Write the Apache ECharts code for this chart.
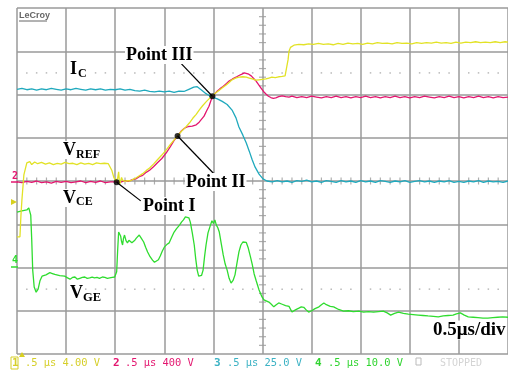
<!DOCTYPE html>
<html>
<head>
<meta charset="utf-8">
<script src="https://cdn.jsdelivr.net/npm/echarts@6/dist/echarts.min.js"></script>
<style>
  html, body { margin: 0; padding: 0; background: #fff; }
  #chart { width: 508px; height: 373px; }
</style>
</head>
<body>
<div id="chart"></div>
<script>
// scope screen: x in divisions (0.5 us/div), y in divisions (8 div tall)
const ch1Vref = [[0,2.71],[0.06,2.71],[0.08,3.2],[0.1,3.56],[0.14,4.14],[0.2,4.42],[0.26,4.45],[0.3,4.38],[0.36,4.44],[0.42,4.4],[0.5,4.43],[0.58,4.39],[0.66,4.42],[0.74,4.38],[0.82,4.41],[0.9,4.39],[0.98,4.43],[1.06,4.4],[1.14,4.41],[1.22,4.38],[1.3,4.42],[1.38,4.39],[1.46,4.41],[1.54,4.38],[1.62,4.42],[1.7,4.4],[1.78,4.41],[1.86,4.4],[1.9,4.36],[1.93,4.25],[1.97,4.09],[2.01,4.0],[2.05,4.06],[2.07,4.21],[2.09,3.92],[2.11,3.88],[2.13,4.08],[2.15,4.02],[2.2,3.99],[2.25,4.01],[2.3,4.0],[2.35,4.03],[2.42,4.07],[2.49,4.12],[2.56,4.17],[2.63,4.24],[2.7,4.3],[2.78,4.39],[2.86,4.49],[2.95,4.6],[3.04,4.72],[3.12,4.84],[3.2,4.95],[3.27,5.04],[3.35,5.15],[3.43,5.24],[3.51,5.34],[3.58,5.45],[3.65,5.54],[3.71,5.64],[3.78,5.74],[3.85,5.83],[3.92,5.91],[3.98,5.97],[4.05,6.04],[4.12,6.1],[4.19,6.16],[4.26,6.22],[4.32,6.28],[4.38,6.34],[4.45,6.38],[4.52,6.4],[4.6,6.41],[4.67,6.4],[4.73,6.38],[4.79,6.36],[4.86,6.33],[4.93,6.34],[5.0,6.35],[5.07,6.36],[5.13,6.38],[5.19,6.4],[5.26,6.39],[5.33,6.41],[5.4,6.42],[5.46,6.43],[5.5,6.46],[5.52,6.8],[5.54,7.0],[5.57,7.09],[5.64,7.14],[5.74,7.16],[5.84,7.15],[5.94,7.17],[6.04,7.16],[6.14,7.18],[6.24,7.16],[6.34,7.17],[6.44,7.15],[6.54,7.18],[6.64,7.16],[6.74,7.19],[6.84,7.17],[6.94,7.18],[7.04,7.16],[7.14,7.19],[7.24,7.17],[7.34,7.2],[7.44,7.18],[7.54,7.19],[7.64,7.17],[7.74,7.2],[7.84,7.18],[7.94,7.19],[8.04,7.17],[8.14,7.2],[8.24,7.18],[8.34,7.2],[8.44,7.19],[8.54,7.21],[8.64,7.19],[8.74,7.2],[8.84,7.18],[8.94,7.21],[9.04,7.19],[9.14,7.21],[9.24,7.2],[9.34,7.22],[9.44,7.2],[9.54,7.21],[9.64,7.2],[9.74,7.22],[9.84,7.2],[9.94,7.22],[10,7.21]]

const ch2Vce = [[0,3.98],[0.1,3.96],[0.2,3.99],[0.3,3.97],[0.4,4.0],[0.5,3.96],[0.6,3.98],[0.7,3.95],[0.8,3.99],[0.9,3.97],[1,3.99],[1.1,3.96],[1.2,3.98],[1.3,4.0],[1.4,3.96],[1.5,3.99],[1.6,3.97],[1.7,4.0],[1.8,3.96],[1.9,3.98],[2.03,3.98],[2.1,3.97],[2.19,4.01],[2.27,3.99],[2.35,4.03],[2.42,4.05],[2.49,4.1],[2.56,4.13],[2.63,4.2],[2.7,4.25],[2.78,4.33],[2.86,4.42],[2.95,4.52],[3.04,4.65],[3.12,4.79],[3.2,4.94],[3.27,5.04],[3.34,5.15],[3.41,5.22],[3.49,5.26],[3.57,5.27],[3.65,5.3],[3.71,5.36],[3.76,5.43],[3.81,5.5],[3.86,5.62],[3.91,5.73],[3.95,5.86],[3.98,5.94],[4.03,6.02],[4.08,6.08],[4.13,6.13],[4.18,6.17],[4.25,6.24],[4.32,6.31],[4.39,6.36],[4.46,6.4],[4.52,6.44],[4.58,6.47],[4.63,6.5],[4.67,6.49],[4.72,6.47],[4.77,6.43],[4.82,6.37],[4.87,6.31],[4.92,6.23],[4.97,6.15],[5.02,6.07],[5.07,6.01],[5.12,5.96],[5.17,5.93],[5.22,5.91],[5.27,5.92],[5.33,5.95],[5.4,5.97],[5.47,5.95],[5.54,5.94],[5.6,5.96],[5.7,5.93],[5.8,5.95],[5.9,5.93],[6,5.96],[6.1,5.94],[6.2,5.92],[6.3,5.95],[6.4,5.93],[6.5,5.96],[6.6,5.93],[6.7,5.95],[6.8,5.92],[6.9,5.95],[7,5.93],[7.1,5.96],[7.2,5.93],[7.3,5.95],[7.4,5.92],[7.5,5.95],[7.6,5.93],[7.7,5.96],[7.8,5.93],[7.9,5.95],[8,5.92],[8.1,5.95],[8.2,5.93],[8.3,5.96],[8.4,5.94],[8.5,5.92],[8.6,5.95],[8.7,5.93],[8.8,5.96],[8.9,5.93],[9,5.95],[9.1,5.92],[9.2,5.95],[9.3,5.93],[9.4,5.96],[9.5,5.93],[9.6,5.95],[9.7,5.92],[9.8,5.95],[9.9,5.93],[10,5.94]]

const ch3Ic = [[0,6.12],[0.1,6.14],[0.2,6.11],[0.3,6.13],[0.4,6.1],[0.5,6.13],[0.6,6.11],[0.7,6.14],[0.8,6.12],[0.9,6.1],[1,6.13],[1.1,6.11],[1.2,6.14],[1.3,6.12],[1.4,6.1],[1.5,6.13],[1.6,6.11],[1.7,6.13],[1.8,6.1],[1.9,6.12],[2,6.11],[2.1,6.13],[2.2,6.1],[2.3,6.12],[2.4,6.09],[2.5,6.08],[2.6,6.1],[2.7,6.07],[2.8,6.06],[2.9,6.08],[3,6.06],[3.1,6.08],[3.2,6.05],[3.3,6.08],[3.4,6.07],[3.5,6.12],[3.6,6.17],[3.67,6.18],[3.75,6.11],[3.85,6.02],[3.92,5.97],[3.98,5.94],[4.08,5.9],[4.18,5.84],[4.28,5.77],[4.38,5.64],[4.46,5.46],[4.52,5.25],[4.6,5.06],[4.67,4.88],[4.73,4.69],[4.79,4.49],[4.85,4.32],[4.93,4.16],[5.01,4.05],[5.09,4.0],[5.2,3.98],[5.3,4.01],[5.4,3.98],[5.5,4.0],[5.6,3.97],[5.7,4.01],[5.8,3.99],[5.9,4.02],[6,3.98],[6.1,4.0],[6.2,3.97],[6.3,4.01],[6.4,3.99],[6.5,3.97],[6.6,4.01],[6.7,3.98],[6.8,4.0],[6.9,3.97],[7,4.01],[7.1,3.98],[7.2,4.0],[7.3,3.97],[7.4,4.01],[7.5,3.99],[7.6,3.97],[7.7,4.0],[7.8,3.98],[7.9,4.01],[8,3.97],[8.1,3.99],[8.2,4.01],[8.3,3.98],[8.4,4.0],[8.5,3.97],[8.6,4.0],[8.7,3.98],[8.8,4.01],[8.9,3.97],[9,3.99],[9.1,3.97],[9.2,4.0],[9.3,3.98],[9.4,4.01],[9.5,3.97],[9.6,4.0],[9.7,3.98],[9.8,3.99],[9.9,3.97],[10,4.0]]

const ch4Vge = [[0,3.28],[0.1,3.31],[0.2,3.33],[0.24,3.38],[0.28,3.21],[0.3,2.64],[0.32,1.94],[0.35,1.55],[0.39,1.43],[0.43,1.5],[0.47,1.7],[0.51,1.8],[0.59,1.83],[0.67,1.88],[0.72,1.86],[0.77,1.84],[0.87,1.81],[0.97,1.8],[1.03,1.76],[1.08,1.73],[1.13,1.77],[1.18,1.78],[1.23,1.73],[1.28,1.75],[1.33,1.77],[1.38,1.78],[1.43,1.75],[1.48,1.76],[1.53,1.78],[1.58,1.76],[1.63,1.77],[1.68,1.75],[1.74,1.78],[1.79,1.77],[1.84,1.75],[1.89,1.76],[1.94,1.77],[1.99,1.78],[2.03,1.9],[2.05,2.4],[2.07,2.82],[2.09,2.78],[2.11,2.73],[2.13,2.6],[2.15,2.52],[2.17,2.68],[2.19,2.75],[2.22,2.62],[2.25,2.57],[2.28,2.63],[2.31,2.61],[2.34,2.57],[2.37,2.59],[2.4,2.63],[2.43,2.68],[2.46,2.72],[2.49,2.75],[2.53,2.68],[2.58,2.59],[2.62,2.47],[2.66,2.36],[2.71,2.25],[2.76,2.17],[2.8,2.12],[2.84,2.1],[2.88,2.18],[2.92,2.27],[2.96,2.38],[3,2.47],[3.05,2.53],[3.1,2.57],[3.15,2.7],[3.2,2.82],[3.25,2.9],[3.31,2.98],[3.35,3.05],[3.39,3.1],[3.43,3.17],[3.47,3.21],[3.5,3.15],[3.53,3.05],[3.57,2.8],[3.61,2.52],[3.64,2.2],[3.67,1.94],[3.7,1.8],[3.73,1.76],[3.76,1.82],[3.79,1.94],[3.82,2.25],[3.85,2.52],[3.89,2.8],[3.94,2.98],[3.97,3.08],[4,3.02],[4.03,3.1],[4.06,2.98],[4.09,2.92],[4.12,2.82],[4.16,2.55],[4.2,2.29],[4.24,2.08],[4.28,1.94],[4.32,1.75],[4.36,1.64],[4.4,1.7],[4.44,1.83],[4.48,2.1],[4.52,2.36],[4.56,2.52],[4.6,2.59],[4.64,2.6],[4.67,2.58],[4.71,2.45],[4.75,2.27],[4.79,2.08],[4.83,1.85],[4.87,1.7],[4.93,1.48],[4.99,1.32],[5.03,1.25],[5.13,1.2],[5.18,1.15],[5.23,1.09],[5.28,1.14],[5.33,1.18],[5.4,1.15],[5.47,1.12],[5.54,1.1],[5.6,0.97],[5.67,1.02],[5.74,1.06],[5.79,1.09],[5.84,1.08],[5.89,1.02],[5.94,0.97],[6.0,1.0],[6.07,1.05],[6.15,1.09],[6.2,1.14],[6.25,1.18],[6.3,1.14],[6.38,1.1],[6.45,1.09],[6.55,1.03],[6.65,0.99],[6.75,1.0],[6.85,0.98],[6.96,0.99],[7.06,0.97],[7.16,0.98],[7.26,0.97],[7.36,0.98],[7.46,0.99],[7.54,0.95],[7.61,0.9],[7.69,0.94],[7.77,0.97],[7.87,0.94],[7.97,0.92],[8.07,0.91],[8.17,0.9],[8.27,0.89],[8.37,0.88],[8.48,0.87],[8.58,0.86],[8.68,0.88],[8.78,0.89],[8.88,0.9],[8.95,0.93],[9.03,0.95],[9.11,0.9],[9.19,0.86],[9.29,0.85],[9.39,0.84],[9.49,0.83],[9.59,0.83],[9.69,0.84],[9.79,0.85],[9.89,0.86],[10,0.85]]

// marked points on the switching waveform and where their leader lines end
const keyPoints = [[2.03, 3.97], [3.27, 5.04], [3.98, 5.96]]
const leaderEnds = [[2.52, 3.54], [4.0, 4.18], [3.35, 6.71]]

// bottom status bar of the scope
const chNames = ['1', '2', '3', '4']
const chSettings = ['.5 μs 4.00 V', '.5 μs 400 V', '.5 μs 25.0 V', '.5 μs 10.0 V']

const COLORS = ['#e2e226', '#e3166f', '#1fa9bd', '#2fdc2f']
const GRID_GRAY = '#9a9a9a'

// minor tick marks on the centre cross and the two dotted reference rows
const hTicks = []
const vTicks = []
const dotRows = []
for (let d = 0; d < 10; d++) {
  for (let k = 1; k <= 4; k++) {
    hTicks.push([d + k * 0.2, 4])
    dotRows.push([d + k * 0.2, 6.5], [d + k * 0.2, 1.5])
  }
}
for (let d = 0; d < 8; d++) {
  for (let k = 1; k <= 4; k++) vTicks.push([5, d + k * 0.2])
}

const chart = echarts.init(document.getElementById('chart'))

const trace = (data, color) => ({
  type: 'line',
  data,
  showSymbol: false,
  silent: true,
  z: 3,
  lineStyle: { color, width: 1.3 },
})

const serif = 'bold 18px "Liberation Serif", "Times New Roman", serif'
const subSerif = 'bold 12px "Liberation Serif", "Times New Roman", serif'
const label = (text, x, y, font) => ({
  type: 'text',
  z: 20,
  style: { text, x, y, font: font || serif, fill: '#000', verticalAlign: 'middle', backgroundColor: '#fff', padding: [0, 1] },
})
const mono = (text, x, color, bold) => ({
  type: 'text',
  z: 20,
  style: { text, x, y: 363, font: (bold ? 'bold 11px' : '10.4px') + ' "DejaVu Sans Mono", monospace', fill: color, verticalAlign: 'middle' },
})

const statusX = [[12, 25], [113, 125], [214, 227], [315, 328]]
const statusColors = ['#d6cf2a', '#e3166f', '#3cb2c4', '#2fd42f']
const statusItems = []
chNames.forEach((n, i) => {
  statusItems.push(mono(n, statusX[i][0], statusColors[i], true))
  statusItems.push(mono(chSettings[i], statusX[i][1], statusColors[i], false))
})

const option = {
  animation: false,
  backgroundColor: '#fff',
  grid: { left: 17, top: 8, width: 493, height: 346 },
  xAxis: {
    type: 'value', min: 0, max: 10, interval: 1,
    axisLine: { show: false }, axisTick: { show: false }, axisLabel: { show: false },
    splitLine: { show: true, lineStyle: { color: GRID_GRAY, width: 1.5 } },
  },
  yAxis: {
    type: 'value', min: 0, max: 8, interval: 1,
    axisLine: { show: false }, axisTick: { show: false }, axisLabel: { show: false },
    splitLine: { show: true, lineStyle: { color: GRID_GRAY, width: 1.5 } },
  },
  series: [
    { type: 'scatter', data: hTicks, symbol: 'rect', symbolSize: [1.2, 7], itemStyle: { color: GRID_GRAY }, silent: true, z: 1 },
    { type: 'scatter', data: vTicks, symbol: 'rect', symbolSize: [7, 1.2], itemStyle: { color: GRID_GRAY }, silent: true, z: 1 },
    { type: 'scatter', data: dotRows, symbol: 'rect', symbolSize: 1.5, itemStyle: { color: '#a8a8a8' }, silent: true, z: 1 },
    trace(ch3Ic, COLORS[2]),
    trace(ch4Vge, COLORS[3]),
    trace(ch2Vce, COLORS[1]),
    trace(ch1Vref, COLORS[0]),
    ...keyPoints.map((p, i) => ({
      type: 'line', data: [p, leaderEnds[i]], showSymbol: false, silent: true, z: 5,
      lineStyle: { color: '#000', width: 1.2 },
    })),
    { type: 'scatter', data: keyPoints, symbolSize: 6, itemStyle: { color: '#000' }, silent: true, z: 6 },
  ],
  graphic: [
    // scope brand and channel markers
    { type: 'text', z: 20, style: { text: 'LeCroy', x: 19, y: 16, font: 'bold 9px "Liberation Sans", Arial, sans-serif', fill: '#666', verticalAlign: 'middle' } },
    { type: 'line', z: 20, shape: { x1: 19, y1: 21, x2: 47, y2: 21 }, style: { stroke: '#666', lineWidth: 1 } },
    { type: 'text', z: 20, style: { text: '2', x: 12, y: 176, font: 'bold 10px "DejaVu Sans Mono", monospace', fill: COLORS[1], verticalAlign: 'middle' } },
    { type: 'line', z: 20, shape: { x1: 11, y1: 182, x2: 18, y2: 182 }, style: { stroke: COLORS[1], lineWidth: 1.5 } },
    { type: 'polygon', z: 20, shape: { points: [[11, 199], [17, 202], [11, 205]] }, style: { fill: '#d8d020' } },
    { type: 'text', z: 20, style: { text: '4', x: 12, y: 260, font: 'bold 10px "DejaVu Sans Mono", monospace', fill: COLORS[3], verticalAlign: 'middle' } },
    { type: 'line', z: 20, shape: { x1: 11, y1: 267, x2: 18, y2: 267 }, style: { stroke: COLORS[3], lineWidth: 1.5 } },
    { type: 'polygon', z: 20, shape: { points: [[19, 357], [22, 352], [25, 357]] }, style: { fill: '#d8d020' } },

    // waveform annotations
    label('I', 69, 69),
    label('C', 77, 74, subSerif),
    label('Point III', 125, 55),
    label('V', 62, 150),
    label('REF', 75, 155, subSerif),
    label('V', 62, 198),
    label('CE', 75, 202, subSerif),
    label('Point I', 142, 206),
    label('Point II', 185, 182),
    label('V', 69, 293),
    label('GE', 82, 298, 'bold 12.5px "Liberation Serif", "Times New Roman", serif'),
    label('0.5μs/div', 432, 330, 'bold 19px "Liberation Serif", "Times New Roman", serif'),

    // status bar
    { type: 'rect', z: 19, shape: { x: 11, y: 357, width: 7, height: 12 }, style: { fill: '#fff', stroke: '#d6cf2a', lineWidth: 1 } },
    ...statusItems,
    { type: 'rect', z: 20, shape: { x: 416, y: 358, width: 5, height: 7 }, style: { fill: 'none', stroke: '#bbb', lineWidth: 1 } },
    { type: 'text', z: 20, style: { text: 'STOPPED', x: 440, y: 363, font: '10px "DejaVu Sans Mono", monospace', fill: '#d4d4d4', verticalAlign: 'middle' } },
  ],
}

chart.setOption(option)
</script>
</body>
</html>
